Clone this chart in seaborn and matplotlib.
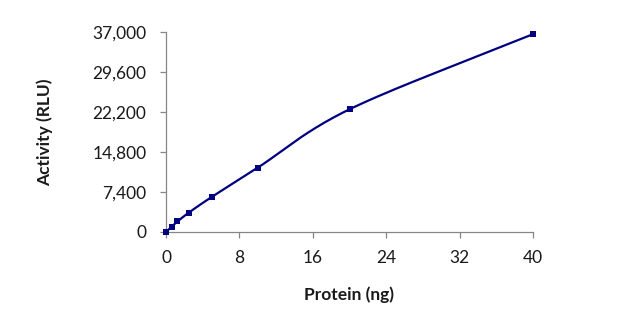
import numpy as np
import pandas as pd
import matplotlib
matplotlib.use("Agg")
import matplotlib.pyplot as plt
import seaborn as sns

# Standard curve: activity vs. amount of protein
protein_ng = [0, 0.625, 1.25, 2.5, 5, 10, 20, 40]
activity_rlu = [0, 1000, 1950, 3600, 6500, 11900, 22700, 36600]

x_ticks = [0, 8, 16, 24, 32, 40]
y_ticks = [0, 7400, 14800, 22200, 29600, 37000]

navy = "#000080"

sns.set_theme(style="white")
plt.rcParams["font.family"] = ["Lato", "DejaVu Sans"]


def smooth_curve(x, y, xspan, yspan, n=40):
    """Catmull-Rom spline through the points (in axis-normalised space)."""
    px = np.asarray(x, float) / xspan
    py = np.asarray(y, float) / yspan
    P = np.column_stack([px, py])
    P = np.vstack([2 * P[0] - P[1], P, 2 * P[-1] - P[-2]])
    out = []
    t = np.linspace(0, 1, n)[:, None]
    for i in range(1, len(P) - 2):
        p0, p1, p2, p3 = P[i - 1], P[i], P[i + 1], P[i + 2]
        seg = 0.5 * ((2 * p1) + (-p0 + p2) * t
                     + (2 * p0 - 5 * p1 + 4 * p2 - p3) * t ** 2
                     + (-p0 + 3 * p1 - 3 * p2 + p3) * t ** 3)
        out.append(seg if i == 1 else seg[1:])
    out = np.vstack(out)
    return out[:, 0] * xspan, out[:, 1] * yspan


df = pd.DataFrame({"protein": protein_ng, "activity": activity_rlu})
sx, sy = smooth_curve(protein_ng, activity_rlu, 40, 37000)
curve = pd.DataFrame({"protein": sx, "activity": sy})

fig = plt.figure(figsize=(6.28, 3.27), dpi=100)
ax = fig.add_axes([166 / 628, 1 - 232 / 327, (533 - 166) / 628, (232 - 32) / 327])

sns.lineplot(data=curve, x="protein", y="activity", ax=ax, color=navy,
             linewidth=1.6, sort=False, estimator=None)
sns.scatterplot(data=df, x="protein", y="activity", ax=ax, color=navy,
                marker="s", s=24, linewidth=0, zorder=3, clip_on=False)

ax.set_xlim(0, 40)
ax.set_ylim(0, 37000)
ax.set_xticks(x_ticks)
ax.set_yticks(y_ticks)
ax.set_xticklabels([str(v) for v in x_ticks])
ax.set_yticklabels([f"{v:,}" for v in y_ticks])

for side in ["top", "right"]:
    ax.spines[side].set_visible(False)
for side in ["left", "bottom"]:
    ax.spines[side].set_color("#868686")
    ax.spines[side].set_linewidth(0.9)

ax.tick_params(axis="both", which="major", direction="out", length=4.5,
               width=0.9, color="#868686", labelsize=12.5, labelcolor="#1a1a1a",
               left=True, bottom=True)
ax.tick_params(axis="x", pad=8.5)
ax.tick_params(axis="y", pad=9.5)

ax.set_xlabel("Protein (ng)", fontsize=12.5, fontweight="bold", color="#1a1a1a",
              labelpad=15)
ax.set_ylabel("Activity (RLU)", fontsize=12.5, fontweight="bold", color="#1a1a1a",
              labelpad=28)

fig.savefig("out.png", dpi=100, facecolor="white")
